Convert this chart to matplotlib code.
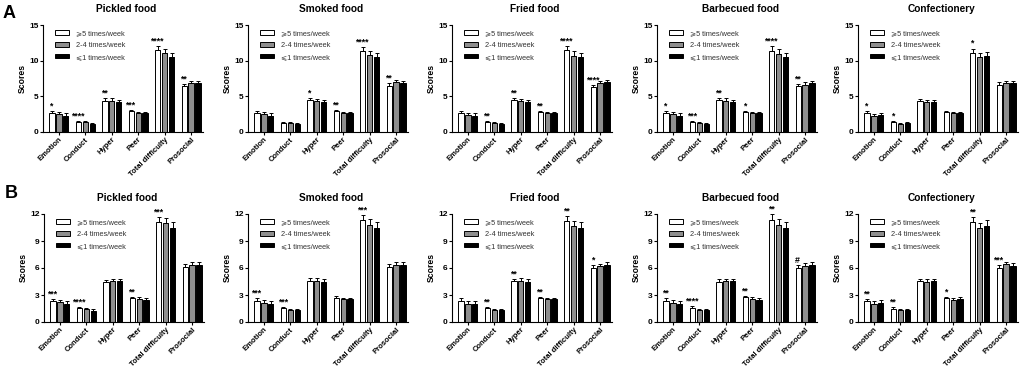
import matplotlib
matplotlib.use("Agg")
import matplotlib.pyplot as plt
import numpy as np

plt.rcParams['font.family'] = ['Liberation Sans', 'DejaVu Sans']

categories = ["Emotion", "Conduct", "Hyper", "Peer", "Total difficulty", "Prosocial"]
foods = ["Pickled food", "Smoked food", "Fried food", "Barbecued food", "Confectionery"]
legend_A = ["⩾5 times/week", "2-4 times/week", "⩽1 times/week"]
legend_B = ["⩾5 times/week", "2-4 times/week", "⩽1 times/week"]

# Row A values: [high, mid, low] per category
A_pickled = [[2.7, 1.4, 4.4, 2.9, 11.5, 6.4], [2.5, 1.35, 4.4, 2.65, 11.1, 6.85], [2.3, 1.1, 4.2, 2.6, 10.5, 6.85]]
A_smoked = [[2.6, 1.3, 4.5, 2.9, 11.3, 6.5], [2.5, 1.2, 4.3, 2.65, 10.8, 6.95], [2.3, 1.15, 4.2, 2.6, 10.5, 6.8]]
A_fried = [[2.6, 1.4, 4.5, 2.85, 11.5, 6.3], [2.4, 1.2, 4.3, 2.6, 10.7, 6.8], [2.3, 1.15, 4.2, 2.6, 10.5, 6.95]]
A_bbq = [[2.6, 1.4, 4.45, 2.8, 11.4, 6.4], [2.5, 1.3, 4.4, 2.65, 11.0, 6.65], [2.3, 1.1, 4.2, 2.6, 10.5, 6.85]]
A_conf = [[2.6, 1.35, 4.3, 2.75, 11.1, 6.65], [2.25, 1.15, 4.2, 2.6, 10.5, 6.85], [2.35, 1.2, 4.2, 2.65, 10.6, 6.8]]
A_err = [0.3, 0.15, 0.3, 0.15, 0.6, 0.3]
A_stars = [["*", "****", "**", "***", "****", "**"],
           ["", "", "*", "**", "****", "**"],
           ["", "**", "**", "**", "****", "****"],
           ["*", "***", "**", "*", "****", "**"],
           ["*", "*", "", "", "*", ""]]

# Row B values
B_pickled = [[2.3, 1.55, 4.45, 2.65, 11.1, 6.15], [2.2, 1.45, 4.55, 2.6, 11.0, 6.35], [2.0, 1.25, 4.55, 2.5, 10.5, 6.35]]
B_smoked = [[2.35, 1.55, 4.6, 2.7, 11.3, 6.1], [2.1, 1.35, 4.6, 2.55, 10.8, 6.35], [2.0, 1.3, 4.5, 2.55, 10.5, 6.35]]
B_fried = [[2.35, 1.55, 4.55, 2.65, 11.2, 6.05], [2.05, 1.3, 4.6, 2.55, 10.65, 6.2], [2.0, 1.3, 4.5, 2.55, 10.5, 6.35]]
B_bbq = [[2.35, 1.6, 4.5, 2.75, 11.35, 6.0], [2.1, 1.35, 4.55, 2.6, 10.8, 6.25], [2.0, 1.3, 4.55, 2.5, 10.5, 6.35]]
B_conf = [[2.3, 1.5, 4.55, 2.65, 11.1, 6.0], [2.0, 1.3, 4.5, 2.5, 10.45, 6.4], [2.1, 1.35, 4.55, 2.6, 10.7, 6.25]]
B_err = [0.3, 0.15, 0.25, 0.15, 0.6, 0.3]
B_stars = [["***", "****", "", "**", "***", ""],
           ["***", "***", "", "", "***", ""],
           ["", "**", "**", "**", "**", "*"],
           ["**", "****", "", "**", "**", "#"],
           ["**", "**", "", "*", "**", "***"]]

A_data = [A_pickled, A_smoked, A_fried, A_bbq, A_conf]
B_data = [B_pickled, B_smoked, B_fried, B_bbq, B_conf]

colors = ["white", "#8e8e8e", "black"]

W, H = 1021, 366
fig = plt.figure(figsize=(W / 100, H / 100), dpi=100)

lefts_A = [43, 248, 452, 657, 858]
lefts_B = [44, 248, 452, 657, 858]
ax_w = 160


def draw(ax, data, err, stars, ymax, yticks, title, legend_labels):
    x = np.arange(len(categories))
    bw = 0.2
    offs = [-0.26, 0.0, 0.26]
    handles = []
    for i in range(3):
        b = ax.bar(x + offs[i], data[i], width=bw, color=colors[i], edgecolor="black",
                   linewidth=0.7, zorder=2)
        handles.append(b)
        ax.errorbar(x + offs[i], data[i], yerr=[[0] * len(err), err], fmt="none",
                    ecolor="black", elinewidth=0.7, capsize=1.2, capthick=0.7, zorder=3)
    for j, s in enumerate(stars):
        if s:
            top = data[0][j] + err[j]
            ax.text(x[j] + offs[0] - 0.03, top + ymax * 0.005, s, ha="center", va="bottom",
                    fontsize=6.3, fontweight="bold")
    ax.set_xlim(-0.6, 5.45)
    ax.set_ylim(0, ymax)
    ax.set_yticks(yticks)
    ax.set_xticks(x)
    ax.set_xticklabels(categories, rotation=45, ha="right", rotation_mode="anchor",
                       fontsize=5.5, fontweight="bold")
    for lab in ax.get_yticklabels():
        lab.set_fontweight("bold")
        lab.set_fontsize(6)
    ax.tick_params(axis="both", length=2.0, width=0.8, pad=1.0)
    ax.spines["top"].set_visible(False)
    ax.spines["right"].set_visible(False)
    ax.spines["left"].set_linewidth(0.8)
    ax.spines["bottom"].set_linewidth(0.8)
    ax.set_ylabel("Scores", fontsize=6.2, fontweight="bold", labelpad=2)
    ax.text(0.52, 1.15, title, transform=ax.transAxes, ha="center", va="center",
            fontsize=7.3, fontweight="bold")
    leg = ax.legend(handles, legend_labels, loc="upper left", bbox_to_anchor=(0.04, 1.0),
                    frameon=False, fontsize=5.3, handlelength=2.0, handleheight=0.6,
                    labelspacing=0.65, handletextpad=0.9, borderpad=0.2)
    for t in leg.get_texts():
        t.set_color("#333333")


for k in range(5):
    axA = fig.add_axes([lefts_A[k] / W, 1 - 132 / H, ax_w / W, 107 / H])
    draw(axA, A_data[k], A_err, A_stars[k], 15, [0, 5, 10, 15], foods[k], legend_A)
    axB = fig.add_axes([lefts_B[k] / W, 1 - 322 / H, ax_w / W, 108 / H])
    draw(axB, B_data[k], B_err, B_stars[k], 12, [0, 3, 6, 9, 12], foods[k], legend_B)

fig.text(9 / W, 1 - 14 / H, "A", fontsize=13, fontweight="bold", ha="center", va="center")
fig.text(11 / W, 1 - 194 / H, "B", fontsize=13, fontweight="bold", ha="center", va="center")

fig.savefig("out.png", dpi=100)
